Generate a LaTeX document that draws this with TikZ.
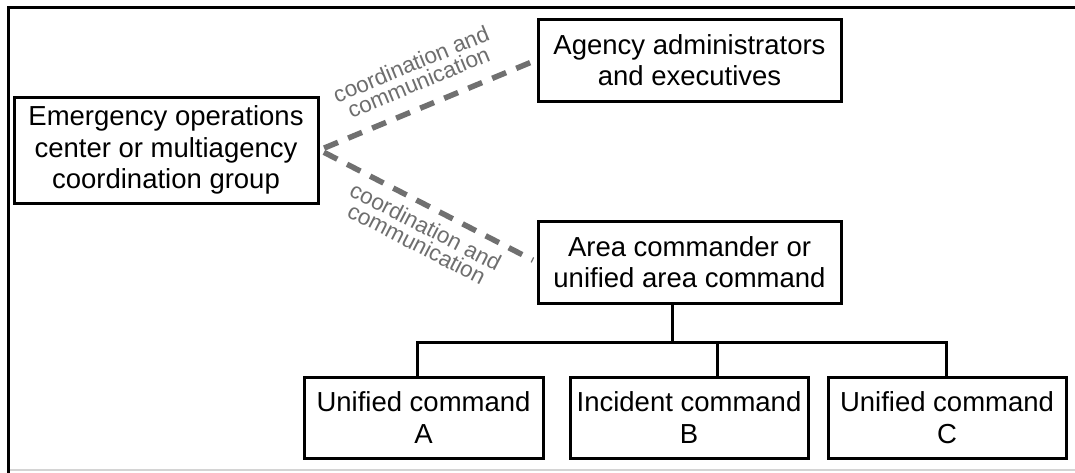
\documentclass[tikz,border=0pt]{standalone}
\usepackage{fontspec}
\setmainfont{Liberation Sans}
\definecolor{linkgray}{HTML}{707070}
\definecolor{labelgray}{HTML}{6E6E6E}
\definecolor{framegray}{HTML}{D4D4D4}
\begin{document}
\begin{tikzpicture}[x=1pt,y=-1pt,
  box/.style={draw=black, line width=3pt, align=center, inner sep=0pt, font=\fontsize{27.5}{31.5}\selectfont},
  link/.style={draw=linkgray, line width=5.5pt, dash pattern=on 15pt off 11pt},
  lbl/.style={text=labelgray, font=\fontsize{22.5}{19.5}\selectfont, align=center, inner sep=0pt},
  tree/.style={draw=black, line width=3pt}]
\useasboundingbox (0,0) rectangle (1075,472);
\fill[white] (0,0) rectangle (1075,472);
% frame
\draw[line width=3pt] (8,473) -- (8,7) -- (1076,7);
\draw[framegray, line width=2pt] (10,470) -- (1076,470);
% boxes
\node[box, minimum width=304pt, minimum height=106pt] (eoc) at (166,150) {Emergency operations\\center or multiagency\\coordination group};
\node[box, minimum width=303pt, minimum height=82pt] (agency) at (689.5,60) {Agency administrators\\and executives};
\node[box, minimum width=303pt, minimum height=82pt] (area) at (689.5,262) {Area commander or\\unified area command};
\node[box, minimum width=239pt, minimum height=81pt] (ua) at (423.5,417.5) {Unified command\\A};
\node[box, minimum width=238pt, minimum height=81pt] (ib) at (689,417.5) {Incident command\\B};
\node[box, minimum width=238pt, minimum height=81pt] (uc) at (947,417.5) {Unified command\\C};
% dashed links
\draw[link, shorten <=5pt, shorten >=2pt] (eoc.east) -- (agency.west)
  node[lbl, midway, sloped, above=14pt] {coordination and\\communication};
\draw[link, shorten <=5pt, shorten >=4pt] (eoc.east) -- (area.west)
  node[lbl, pos=0.53, sloped, below=8pt] {coordination and\\communication};
% tree
\coordinate (hA) at (417,342);
\coordinate (hB) at (717,342);
\coordinate (hC) at (946,342);
\coordinate (hT) at (672,342);
\draw[tree] (hA |- ua.north) -- (hA) -- (hC) -- (hC |- uc.north);
\draw[tree] (hB) -- (hB |- ib.north);
\draw[tree] (hT) -- (hT |- area.south);
\end{tikzpicture}
\end{document}
